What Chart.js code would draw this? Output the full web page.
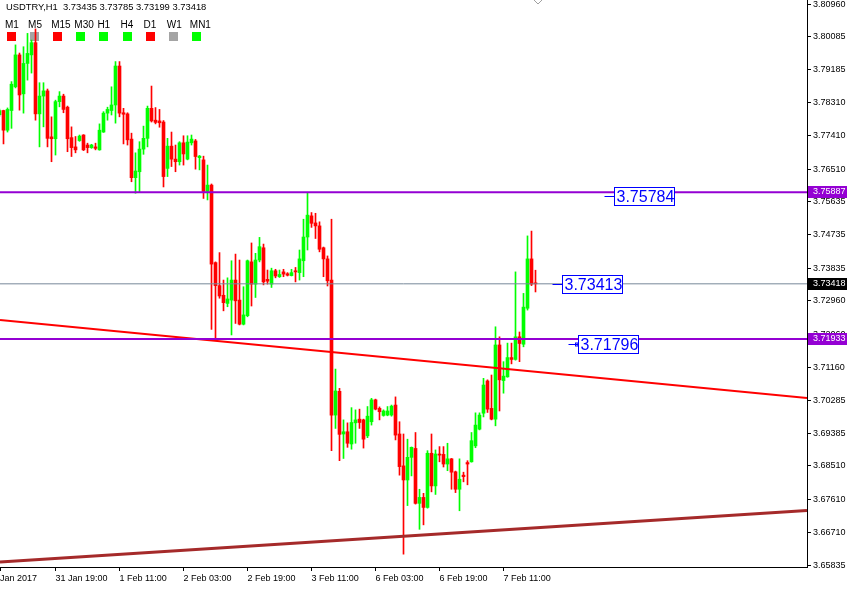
<!DOCTYPE html>
<html lang="en">
<head>
<meta charset="UTF-8">
<title>USDTRY,H1</title>
<script src="https://cdn.jsdelivr.net/npm/chart.js"></script>
<style>
    html, body { margin: 0; padding: 0; background: #fff; }
    #wrap { width: 847px; height: 589px; }
</style>
</head>
<body>
<div id="wrap"><canvas id="chart" width="847" height="589"></canvas></div>
<script>
// USDTRY H1 candles, 31 Jan 05:00 .. 7 Feb 19:00
const openP = [
    3.7798, 3.7809, 3.7756, 3.7809, 3.7873, 3.7959, 3.7854, 3.7936, 3.7959, 3.7992,
    3.7800, 3.7848, 3.7862, 3.7738, 3.7733, 3.7833, 3.7848, 3.7818, 3.7736, 3.7711,
    3.7728, 3.7743, 3.7716, 3.7709, 3.7711, 3.7703, 3.7751, 3.7802, 3.7809, 3.7824,
    3.7929, 3.7803, 3.7800, 3.7732, 3.7628, 3.7644, 3.7705, 3.7734, 3.7815, 3.7783,
    3.7781, 3.7778, 3.7653, 3.7713, 3.7678, 3.7671, 3.7722, 3.7678, 3.7722, 3.7727,
    3.7682, 3.7676, 3.7591, 3.7608, 3.7399, 3.7337, 3.7311, 3.7289, 3.7298, 3.7352,
    3.7298, 3.7233, 3.7256, 3.7401, 3.7341, 3.7406, 3.7439, 3.7354, 3.7341, 3.7377,
    3.7361, 3.7374, 3.7369, 3.7364, 3.7377, 3.7372, 3.7404, 3.7468, 3.7525, 3.7506,
    3.7498, 3.7439, 3.7409, 3.7352, 3.6988, 3.7052, 3.6937, 3.6943, 3.6910, 3.6967,
    3.6977, 3.6975, 3.6932, 3.6970, 3.7029, 3.7006, 3.6987, 3.6988, 3.6988, 3.7015,
    3.6937, 3.6851, 3.6813, 3.6874, 3.6898, 3.6750, 3.6766, 3.6739, 3.6885, 3.6797,
    3.6883, 3.6882, 3.6856, 3.6870, 3.6835, 3.6788, 3.6826, 3.6860, 3.6862, 3.6905,
    3.6950, 3.6993, 3.7080, 3.7006, 3.6977, 3.7177, 3.7081, 3.7091, 3.7143, 3.7138,
    3.7199, 3.7179, 3.7276, 3.7409, 3.73435
];
const highP = [
    3.7813, 3.7810, 3.7816, 3.7887, 3.7986, 3.7964, 3.7981, 3.8017, 3.7999, 3.8029,
    3.7884, 3.7884, 3.7867, 3.7792, 3.7837, 3.7860, 3.7853, 3.7821, 3.7765, 3.7739,
    3.7743, 3.7744, 3.7721, 3.7718, 3.7721, 3.7773, 3.7806, 3.7818, 3.7873, 3.7941,
    3.7941, 3.7815, 3.7803, 3.7748, 3.7695, 3.7725, 3.7767, 3.7821, 3.7875, 3.7817,
    3.7812, 3.7782, 3.7734, 3.7751, 3.7716, 3.7725, 3.7741, 3.7741, 3.7743, 3.7731,
    3.7688, 3.7686, 3.7662, 3.7611, 3.7401, 3.7426, 3.7352, 3.7358, 3.7404, 3.7422,
    3.7406, 3.7334, 3.7406, 3.7452, 3.7424, 3.7467, 3.7449, 3.7379, 3.7384, 3.7381,
    3.7379, 3.7381, 3.7372, 3.7381, 3.7386, 3.7433, 3.7516, 3.7587, 3.7534, 3.7532,
    3.7509, 3.7441, 3.7417, 3.7516, 3.7112, 3.7060, 3.6975, 3.6967, 3.7008, 3.7002,
    3.7004, 3.6977, 3.7011, 3.7033, 3.7031, 3.7010, 3.7002, 3.7011, 3.7015, 3.7037,
    3.6970, 3.6937, 3.6923, 3.6902, 3.6941, 3.6788, 3.6777, 3.6892, 3.6937, 3.6894,
    3.6903, 3.6903, 3.6912, 3.6871, 3.6837, 3.6870, 3.6834, 3.6865, 3.6941, 3.6994,
    3.6994, 3.7087, 3.7083, 3.7096, 3.7226, 3.7199, 3.7132, 3.7182, 3.7182, 3.7374,
    3.7212, 3.7316, 3.7471, 3.7484, 3.73785
];
const lowP = [
    3.7794, 3.7719, 3.7751, 3.7761, 3.7870, 3.7810, 3.7802, 3.7891, 3.7910, 3.7783,
    3.7711, 3.7765, 3.7711, 3.7671, 3.7689, 3.7819, 3.7803, 3.7698, 3.7685, 3.7695,
    3.7726, 3.7701, 3.7695, 3.7707, 3.7703, 3.7702, 3.7750, 3.7783, 3.7797, 3.7775,
    3.7792, 3.7719, 3.7716, 3.7617, 3.7586, 3.7590, 3.7691, 3.7711, 3.7778, 3.7773,
    3.7764, 3.7603, 3.7631, 3.7658, 3.7644, 3.7662, 3.7662, 3.7676, 3.7716, 3.7651,
    3.7649, 3.7572, 3.7568, 3.7219, 3.7195, 3.7303, 3.7269, 3.7280, 3.7204, 3.7235,
    3.7231, 3.7231, 3.7253, 3.7282, 3.7305, 3.7401, 3.7339, 3.7341, 3.7332, 3.7358,
    3.7359, 3.7361, 3.7363, 3.7363, 3.7347, 3.7352, 3.7361, 3.7433, 3.7494, 3.7464,
    3.7428, 3.7361, 3.7336, 3.6892, 3.6952, 3.6865, 3.6871, 3.6901, 3.6896, 3.6912,
    3.6952, 3.6899, 3.6927, 3.6961, 3.7002, 3.6975, 3.6985, 3.6986, 3.6985, 3.6921,
    3.6826, 3.6613, 3.6744, 3.6824, 3.6748, 3.6680, 3.6692, 3.6737, 3.6781, 3.6774,
    3.6862, 3.6848, 3.6838, 3.6788, 3.6779, 3.6730, 3.6808, 3.6800, 3.6861, 3.6900,
    3.6948, 3.6983, 3.6995, 3.6975, 3.6959, 3.6999, 3.7047, 3.7090, 3.7126, 3.7136,
    3.7132, 3.7172, 3.7271, 3.7337, 3.73199
];
const closeP = [
    3.7809, 3.7756, 3.7812, 3.7880, 3.7959, 3.7851, 3.7936, 3.7963, 3.7992, 3.7800,
    3.7848, 3.7862, 3.7734, 3.7733, 3.7833, 3.7848, 3.7812, 3.7733, 3.7709, 3.7703,
    3.7740, 3.7703, 3.7709, 3.7716, 3.7707, 3.7756, 3.7802, 3.7812, 3.7824, 3.7929,
    3.7802, 3.7799, 3.7730, 3.7628, 3.7646, 3.7705, 3.7734, 3.7815, 3.7781, 3.7777,
    3.7776, 3.7631, 3.7713, 3.7678, 3.7671, 3.7722, 3.7692, 3.7724, 3.7732, 3.7685,
    3.7686, 3.7591, 3.7608, 3.7395, 3.7337, 3.7309, 3.7291, 3.7301, 3.7352, 3.7296,
    3.7233, 3.7258, 3.7404, 3.7341, 3.7406, 3.7442, 3.7347, 3.7349, 3.7377, 3.7363,
    3.7367, 3.7368, 3.7365, 3.7372, 3.7374, 3.7409, 3.7468, 3.7527, 3.7505, 3.7498,
    3.7435, 3.7409, 3.7350, 3.6988, 3.7053, 3.6936, 3.6943, 3.6912, 3.6968, 3.6975,
    3.6968, 3.6923, 3.6985, 3.7029, 3.7004, 3.6997, 3.6999, 3.6999, 3.7012, 3.6934,
    3.6849, 3.6813, 3.6874, 3.6901, 3.6750, 3.6766, 3.6739, 3.6885, 3.6797, 3.6883,
    3.6880, 3.6856, 3.6870, 3.6834, 3.6788, 3.6815, 3.6822, 3.6856, 3.6919, 3.6961,
    3.6988, 3.7069, 3.7004, 3.6977, 3.7177, 3.7083, 3.7093, 3.7143, 3.7138, 3.7199,
    3.7181, 3.7279, 3.7409, 3.7341, 3.73418
];

// time axis: bar index of each label
const xTickIdx = [0.125, 14, 30, 46, 62, 78, 94, 110, 126];
const xTickLabels = ['Jan 2017', '31 Jan 19:00', '1 Feb 11:00', '2 Feb 03:00', '2 Feb 19:00',
                     '3 Feb 11:00', '6 Feb 03:00', '6 Feb 19:00', '7 Feb 11:00'];

// price axis labels
const yTicks = [3.80960, 3.80085, 3.79185, 3.78310, 3.77410, 3.76510, 3.75635, 3.74735, 3.73835,
                3.72960, 3.72060, 3.71160, 3.70285, 3.69385, 3.68510, 3.67610, 3.66710, 3.65835];

// horizontal levels and trend lines
const levelPrices = [3.75887, 3.71933];
const bidPrice = 3.73418;
const redTrend = [3.7244, 3.7034];      // price at left / right edge
const brownTrend = [3.6592, 3.6731];

// price tag objects
const tagPrices = [3.75784, 3.73413, 3.71796];
const tagIdx = [151.1, 138.2, 142.2];

// timeframe strip
const tfLabels = ['M1', 'M5', 'M15', 'M30', 'H1', 'H4', 'D1', 'W1', 'MN1'];
const tfState = ['down', 'flat', 'down', 'up', 'up', 'up', 'down', 'flat', 'up'];

const BULL = '#00ff00';
const BEAR = '#ff0000';
const VIOLET = '#9400d3';
const FONT = '"Liberation Sans", Arial, sans-serif';

const xMin = 0.125;
const xMax = xMin + 807 / 4;
const yMin = 3.65784;
const yMax = 3.81070;

const idx = openP.map((_, i) => i);
const colorOf = ctx => closeP[ctx.dataIndex] >= openP[ctx.dataIndex] ? BULL : BEAR;

function hLine(p1, p2, color, width) {
    return {
        type: 'line',
        data: [{ x: xMin, y: p1 }, { x: xMax, y: p2 }],
        borderColor: color,
        borderWidth: width,
        pointRadius: 0,
        fill: false,
        order: 0
    };
}

const overlay = {
    id: 'mtOverlay',
    beforeDraw(chart) {
        const c = chart.ctx;
        c.save();
        c.fillStyle = '#fff';
        c.fillRect(0, 0, chart.width, chart.height);
        c.restore();
    },
    beforeDatasetsDraw(chart) {
        const c = chart.ctx;
        c.save();
        c.fillStyle = '#000';
        c.textBaseline = 'alphabetic';
        c.font = '9.4px ' + FONT;
        const last = openP.length - 1;
        c.fillText('USDTRY,H1  ' + openP[last].toFixed(5) + ' ' + highP[last].toFixed(5) + ' ' +
                   lowP[last].toFixed(5) + ' ' + closeP[last].toFixed(5), 6, 9.5);
        c.font = '10px ' + FONT;
        const tfColor = { up: BULL, down: BEAR, flat: '#a4a4a4' };
        tfLabels.forEach((t, k) => {
            const x = 5 + k * 23.1;
            c.fillStyle = '#000';
            c.fillText(t, x, 28);
            c.fillStyle = tfColor[tfState[k]];
            c.fillRect(Math.round(x + 2), 32, 9, 9);
        });
        c.restore();
    },
    afterDatasetsDraw(chart) {
        const c = chart.ctx;
        const xs = chart.scales.x, ys = chart.scales.y;
        c.save();
        c.font = '16px ' + FONT;
        c.textBaseline = 'middle';
        c.strokeStyle = '#0000ff';
        c.fillStyle = '#0000ff';
        c.lineWidth = 1;
        tagPrices.forEach((p, k) => {
            const x = Math.round(xs.getPixelForValue(tagIdx[k])) + 0.5;
            const y = Math.round(ys.getPixelForValue(p)) + 0.5;
            c.beginPath();
            c.moveTo(x, y);
            c.lineTo(x + 10, y);
            c.stroke();
            if (k === 2) c.strokeRect(x + 7, y - 1.5, 2.5, 3);
            c.fillStyle = '#fff';
            c.fillRect(x + 10, y - 9, 60, 18);
            c.fillStyle = '#0000ff';
            c.strokeRect(x + 10, y - 9, 60, 18);
            c.fillText(p.toFixed(5), x + 12, y + 1);
        });
        c.restore();
    },
    afterDraw(chart) {
        const c = chart.ctx;
        const ys = chart.scales.y, xs = chart.scales.x;
        const marks = [[levelPrices[0], VIOLET], [bidPrice, '#000'], [levelPrices[1], VIOLET]];
        c.save();
        c.font = '9px ' + FONT;
        c.textBaseline = 'middle';
        marks.forEach(([p, col]) => {
            const y = Math.round(ys.getPixelForValue(p));
            c.fillStyle = col;
            c.fillRect(808, y - 6, 39, 12);
            c.fillStyle = '#fff';
            c.fillText(p.toFixed(5), 813, y);
        });
        // chart shift marker
        const sx = Math.round(xs.getPixelForValue(openP.length - 0.5));
        c.strokeStyle = '#a0a0a0';
        c.beginPath();
        c.moveTo(sx - 4, 0);
        c.lineTo(sx, 4);
        c.lineTo(sx + 4, 0);
        c.stroke();
        c.restore();
    }
};

new Chart(document.getElementById('chart'), {
    type: 'bar',
    data: {
        datasets: [
            hLine(levelPrices[0], levelPrices[0], VIOLET, 2),
            hLine(levelPrices[1], levelPrices[1], VIOLET, 2),
            hLine(bidPrice, bidPrice, '#778899', 1),
            hLine(redTrend[0], redTrend[1], '#ff0000', 2),
            hLine(brownTrend[0], brownTrend[1], '#a52a2a', 3),
            {
                type: 'bar',
                label: 'wick',
                data: idx.map(i => ({ x: i, y: [lowP[i], highP[i]] })),
                backgroundColor: colorOf,
                barThickness: 1,
                grouped: false,
                order: 2
            },
            {
                type: 'bar',
                label: 'body',
                data: idx.map(i => ({ x: i, y: [openP[i], closeP[i]] })),
                backgroundColor: colorOf,
                barThickness: 3,
                minBarLength: 1,
                grouped: false,
                order: 1
            }
        ]
    },
    options: {
        responsive: false,
        animation: false,
        layout: { padding: 0 },
        plugins: { legend: { display: false }, tooltip: { enabled: false } },
        scales: {
            x: {
                type: 'linear',
                min: xMin,
                max: xMax,
                offset: false,
                grid: { display: true, drawOnChartArea: false, drawTicks: true, tickLength: 4, color: '#000', offset: false },
                border: { display: true, color: '#000' },
                ticks: {
                    autoSkip: false, maxRotation: 0, align: 'start', padding: 2, color: '#000',
                    font: { family: FONT, size: 9 },
                    callback: (v, i) => xTickLabels[i]
                },
                afterBuildTicks: s => { s.ticks = xTickIdx.map(v => ({ value: v })); },
                afterFit: s => { s.height = 22; s.paddingLeft = 0; s.paddingRight = 0; }
            },
            y: {
                position: 'right',
                min: yMin,
                max: yMax,
                grid: { display: true, drawOnChartArea: false, drawTicks: true, tickLength: 4, color: '#000' },
                border: { display: true, color: '#000' },
                ticks: {
                    autoSkip: false, padding: 2, color: '#000',
                    font: { family: FONT, size: 9 },
                    callback: v => v.toFixed(5)
                },
                afterBuildTicks: s => { s.ticks = yTicks.map(v => ({ value: v })); },
                afterFit: s => { s.width = 40; s.paddingTop = 0; s.paddingBottom = 0; }
            }
        }
    },
    plugins: [overlay]
});
</script>
</body>
</html>
